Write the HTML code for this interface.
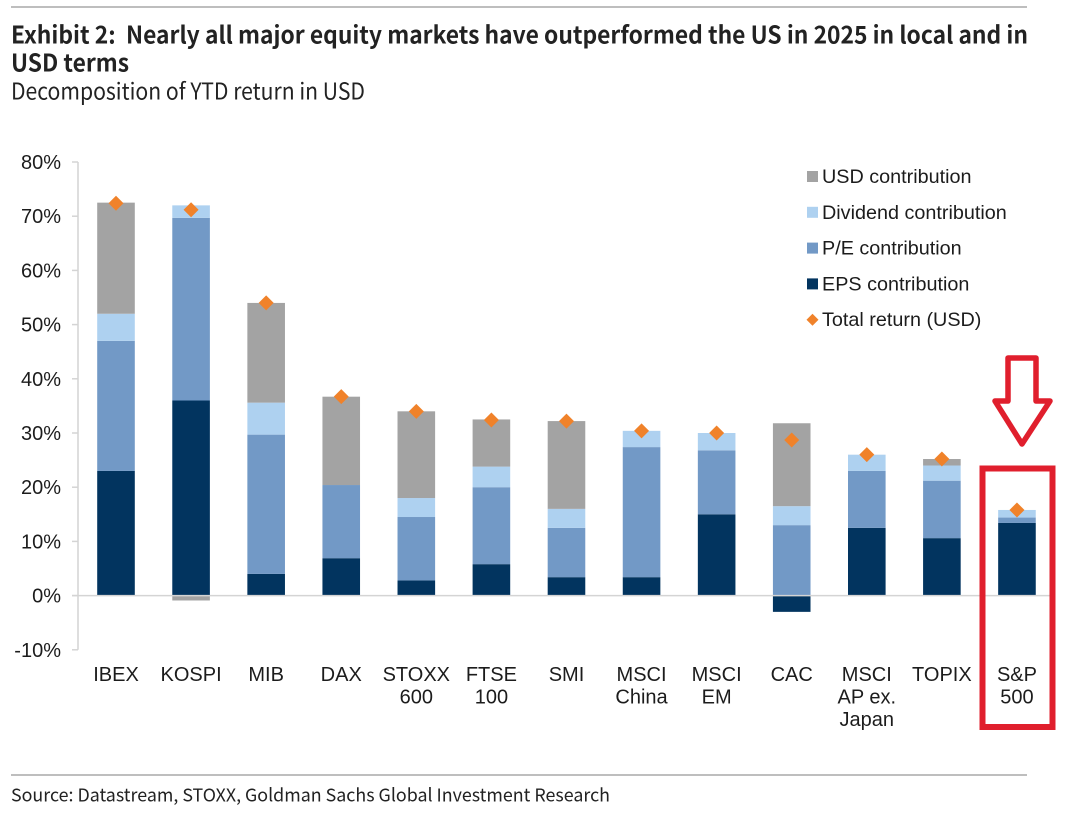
<!DOCTYPE html>
<html lang="en">
<head>
<meta charset="utf-8">
<title>Exhibit 2</title>
<style>
html,body{margin:0;padding:0;background:#fff;}
body{width:1071px;height:813px;overflow:hidden;}
svg{display:block;font-family:"Liberation Sans",sans-serif;}
.hd{font-family:"Noto Sans CJK JP","DejaVu Sans",sans-serif;white-space:pre;}
</style>
</head>
<body>
<svg id="chart" xmlns="http://www.w3.org/2000/svg" width="1071" height="813" viewBox="0 0 1071 813">
  <rect width="1071" height="813" fill="#ffffff"/>
  <line x1="11" x2="1027" y1="7" y2="7" stroke="#a9a9a9" stroke-width="1.5"/>
  <text class="hd" x="11" y="43.5" font-size="24" font-weight="700" fill="#222" textLength="1017" lengthAdjust="spacingAndGlyphs">Exhibit 2:  Nearly all major equity markets have outperformed the US in 2025 in local and in</text>
  <text class="hd" x="11" y="71.5" font-size="24" font-weight="700" fill="#222" textLength="118" lengthAdjust="spacingAndGlyphs">USD terms</text>
  <text class="hd" x="11" y="99.5" font-size="23" fill="#222" textLength="354" lengthAdjust="spacingAndGlyphs">Decomposition of YTD return in USD</text>
  <g id="plot"></g>
  <g id="legend"></g>
  <rect x="982.5" y="468.5" width="70" height="258.5" fill="none" stroke="#e01f2d" stroke-width="6"/>
  <polygon points="1008,358 1036,358 1036,401 1050,401 1022,444 995,401 1008,401" fill="#ffffff" stroke="#e01f2d" stroke-width="5.5" stroke-linejoin="round"/>
  <line x1="11" x2="1027" y1="775" y2="775" stroke="#a9a9a9" stroke-width="1.5"/>
  <text class="hd" x="11" y="801.5" font-size="18" fill="#222" textLength="599" lengthAdjust="spacingAndGlyphs">Source: Datastream, STOXX, Goldman Sachs Global Investment Research</text>
</svg>
<script>
const categories = [["IBEX"],["KOSPI"],["MIB"],["DAX"],["STOXX","600"],["FTSE","100"],["SMI"],["MSCI","China"],["MSCI","EM"],["CAC"],["MSCI","AP ex.","Japan"],["TOPIX"],["S&P","500"]];
const epsValues = [23.0,36.0,4.0,6.9,2.8,5.8,3.4,3.4,15.0,-3.0,12.5,10.6,13.4];
const peValues = [24.0,33.7,25.7,13.5,11.7,14.2,9.1,24.0,11.8,13.0,10.5,10.6,1.0];
const dividendValues = [5.0,2.3,5.9,0,3.5,3.8,3.5,3.0,3.2,3.5,3.0,2.8,1.4];
const usdValues = [20.5,-0.9,18.4,16.3,16.0,8.7,16.2,0,0,15.3,0,1.2,0];
const totalValues = [72.4,71.2,54.0,36.7,34.0,32.4,32.2,30.4,30.0,28.7,26.0,25.2,15.8];
const yTicks = [-10,0,10,20,30,40,50,60,70,80];
const legendLabels = ["USD contribution","Dividend contribution","P/E contribution","EPS contribution","Total return (USD)"];

const NS = "http://www.w3.org/2000/svg";
const plot = document.getElementById("plot");
const legend = document.getElementById("legend");
const colors = {eps:"#02345f", pe:"#7299c6", div:"#aed1f0", usd:"#a3a3a3", total:"#f0822a"};
const axisColor = "#d4d4d4";
const textColor = "#1c1c1c";

function yScale(v){ return 595.6 - v * 5.42; }
function xScale(i){ return 116 + i * 75.08; }
function make(tag, attrs, parent){
  const el = document.createElementNS(NS, tag);
  for (const k in attrs) el.setAttribute(k, attrs[k]);
  parent.appendChild(el);
  return el;
}

const axisLine = make("line", {x1:78, x2:78, y1:yScale(80), y2:yScale(-10), stroke:axisColor, "stroke-width":1.5}, plot);



yTicks.forEach(function(t){
  const tick = make("line", {x1:72, x2:78, y1:yScale(t), y2:yScale(t), stroke:axisColor, "stroke-width":1.5}, plot);
  
  
  const label = make("text", {x:61, y:yScale(t)+7, "text-anchor":"end", "font-size":20, fill:textColor}, plot);
  
  
  label.textContent = t + "%";
});

const stackSeries = [
  {key:"eps", values:epsValues},
  {key:"pe", values:peValues},
  {key:"div", values:dividendValues},
  {key:"usd", values:usdValues}
];
const barWidth = 37.6;

categories.forEach(function(lines, i){
  let pos = 0, neg = 0;
  stackSeries.forEach(function(s){
    const v = s.values[i];
    if (!v) return;
    let top, bottom;
    if (v >= 0) { bottom = yScale(pos); pos += v; top = yScale(pos); }
    else { top = yScale(neg); neg += v; bottom = yScale(neg); }
    const bar = make("rect", {x:xScale(i)-barWidth/2, y:top, width:barWidth, height:bottom-top, fill:colors[s.key]}, plot);
    
    
  });
});

const zeroLine = make("line", {x1:72, x2:1051, y1:yScale(0), y2:yScale(0), stroke:axisColor, "stroke-width":1.5}, plot);



categories.forEach(function(lines, i){
  lines.forEach(function(line, j){
    const label = make("text", {x:xScale(i), y:681+j*22.6, "text-anchor":"middle", "font-size":20, fill:textColor}, plot);
    
    
    label.textContent = line;
  });
});

totalValues.forEach(function(v, i){
  const x = xScale(i), y = yScale(v), r = 7.5;
  const marker = make("polygon", {points:[x,y-r,x+r,y,x,y+r,x-r,y].join(","), fill:colors.total}, plot);
  
  
});

const legendColors = [colors.usd, colors.div, colors.pe, colors.eps, colors.total];
legendLabels.forEach(function(name, i){
  const cy = 176.5 + i * 35.8;
  let swatch;
  if (i < 4) {
    swatch = make("rect", {x:807, y:cy-5.5, width:11, height:11, fill:legendColors[i]}, legend);
  } else {
    swatch = make("polygon", {points:[812.5,cy-6,818.5,cy,812.5,cy+6,806.5,cy].join(","), fill:legendColors[i]}, legend);
  }
  
  
  const label = make("text", {x:822, y:cy+6.5, "font-size":19.8, fill:textColor}, legend);
  
  
  label.textContent = name;
});
</script>
</body>
</html>
